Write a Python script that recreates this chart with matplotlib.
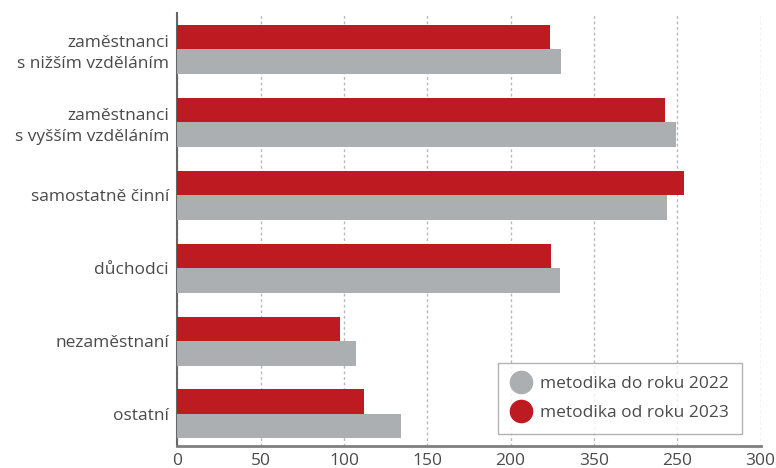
import matplotlib
matplotlib.use("Agg")
import matplotlib.pyplot as plt
from matplotlib.lines import Line2D
import numpy as np

categories = ["zaměstnanci\ns nižším vzděláním",
              "zaměstnanci\ns vyšším vzděláním",
              "samostatně činní",
              "důchodci",
              "nezaměstnaní",
              "ostatní"]
values_2022 = [230.2, 299.2, 293.8, 229.6, 107.2, 134.2]
values_2023 = [223.6, 292.6, 304.0, 224.2, 97.6, 112.0]
tick_values = [0, 50, 100, 150, 200, 250, 300, 350]
tick_labels = ["0", "50", "100", "150", "200", "350", "250", "300"]
series_names = ["metodika do roku 2022", "metodika od roku 2023"]

RED = "#be1a21"
GRAY = "#abafb2"
TXT = "#4a4a4a"

plt.rcParams['font.family'] = ['Open Sans', 'DejaVu Sans']

fig = plt.figure(figsize=(7.76, 4.68), dpi=100)
ax = fig.add_axes([177.3/776, 1-446/468, (760.5-177.3)/776, (446-13)/468])

y = np.arange(len(categories))
h = 0.336
ax.barh(y - h/2, values_2023, height=h, color=RED, zorder=3)
ax.barh(y + h/2, values_2022, height=h, color=GRAY, zorder=3)

ax.set_xlim(0, 350)
ax.set_ylim(5.44, -0.5)
ax.set_yticks(y)
ax.set_yticklabels(categories, fontsize=12.5, color=TXT, linespacing=1.35, ha='right')
ax.set_xticks(tick_values)
ax.set_xticklabels(tick_labels, fontsize=12.5, color=TXT)
ax.tick_params(axis='both', length=0)
ax.tick_params(axis='x', pad=5)
ax.tick_params(axis='y', pad=6)

ax.grid(axis='x', color='#b8b8b8', linestyle=(0, (2, 2)), linewidth=1, zorder=0)
ax.grid(axis='y', visible=False)
for s in ['top', 'right']:
    ax.spines[s].set_visible(False)
ax.spines['left'].set_color('#666666')
ax.spines['left'].set_linewidth(1.5)
ax.spines['bottom'].set_color('#7f7f7f')
ax.spines['bottom'].set_linewidth(2)

handles = [Line2D([], [], linestyle='none', marker='o', markersize=16,
                  markerfacecolor=GRAY, markeredgecolor=GRAY),
           Line2D([], [], linestyle='none', marker='o', markersize=16,
                  markerfacecolor=RED, markeredgecolor=RED)]
leg = fig.legend(handles, series_names, loc='lower right',
                 bbox_to_anchor=(742/776, 1-434/468),
                 fontsize=12.5, frameon=True, fancybox=False,
                 edgecolor='#a0a0a0', handletextpad=0.5, borderpad=0.75,
                 labelspacing=0.75, handlelength=1.2, borderaxespad=0)
leg.get_frame().set_linewidth(1)
for t in leg.get_texts():
    t.set_color(TXT)

fig.savefig("out.png", dpi=100)
